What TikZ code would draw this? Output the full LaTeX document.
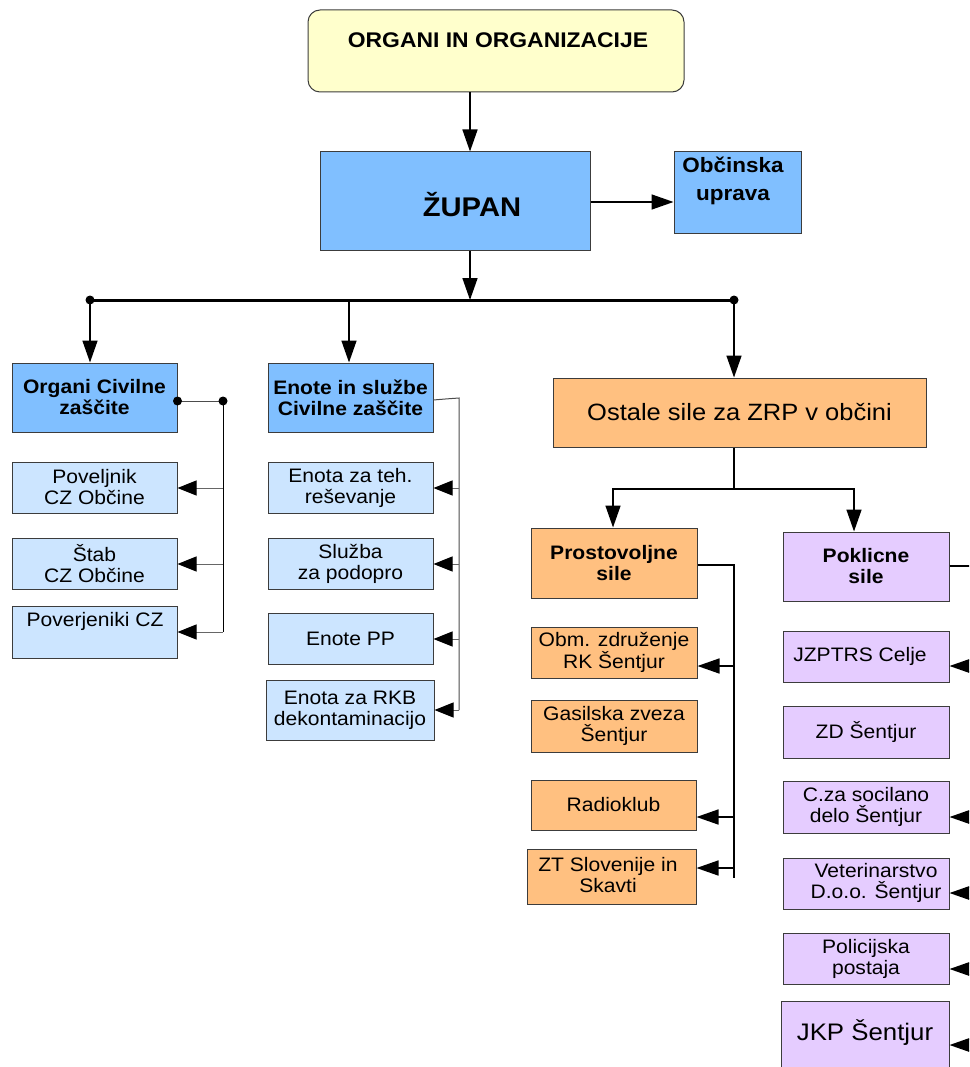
\documentclass[tikz,border=0pt]{standalone}
\usepackage{fontspec}
\setmainfont{Liberation Sans}[FakeStretch=1.08]
\usetikzlibrary{arrows.meta}
\definecolor{cyel}{RGB}{255,255,204}
\definecolor{cblue}{RGB}{128,191,255}
\definecolor{clight}{RGB}{204,229,255}
\definecolor{corange}{RGB}{255,192,128}
\definecolor{cpurple}{RGB}{229,204,255}
\definecolor{cborder}{RGB}{60,60,60}
\begin{document}
\begin{tikzpicture}[x=1pt,y=-1pt,
  bx/.style={draw=cborder,line width=1pt,inner sep=0pt,align=center,
    font=\fontsize{19.5}{21}\selectfont},
  bbx/.style={bx,font=\fontsize{19.5}{21}\selectfont\bfseries},
  txt/.style={inner sep=0pt,align=center,font=\fontsize{19.5}{21}\selectfont},
  arr/.style={line width=1.6pt,-{Triangle[length=22pt,width=15pt]}},
  sarr/.style={line width=1pt,draw=black!60,-{Triangle[length=19pt,width=15pt,color=black,fill=black]}},
  link/.style={line width=1pt,draw=black!70},
  dot/.style={circle,fill=black,inner sep=0pt,minimum size=9pt}]
\useasboundingbox (0,0) rectangle (969,1067);
\clip (0,0) rectangle (969,1067);
% top
\node[bx,fill=cyel,rounded corners=12pt,minimum width=376pt,minimum height=82pt] (top) at (496,51) {};
\node[txt,font=\fontsize{21.2}{24}\selectfont\bfseries] (topt) at (498,40) {ORGANI IN ORGANIZACIJE};
\node[bx,fill=cblue,minimum width=270pt,minimum height=98pt] (zupan) at (455,201) {};
\node[txt,font=\fontsize{27}{30}\selectfont\bfseries] (zupant) at (472,205) {ŽUPAN};
\node[bx,fill=cblue,minimum width=127pt,minimum height=82pt] (obc) at (737.5,193) {};
\node[txt,font=\fontsize{20.8}{28}\selectfont\bfseries] (obct) at (733,181) {Občinska\\uprava};
% left column
\node[bbx,fill=cblue,minimum width=165pt,minimum height=69pt] (ocz) at (94.5,397.5) {Organi Civilne\\zaščite};
\node[bx,fill=clight,minimum width=165pt,minimum height=51pt] (pov) at (94.5,487.5) {Poveljnik\\CZ Občine};
\node[bx,fill=clight,minimum width=165pt,minimum height=51pt] (stab) at (94.5,563.5) {Štab\\CZ Občine};
\node[bx,fill=clight,minimum width=165pt,minimum height=52pt] (poverj) at (94.5,632) {};
\node[txt] (poverjt) at (95,621) {Poverjeniki CZ};
% middle column
\node[bbx,fill=cblue,minimum width=165pt,minimum height=69pt] (eis) at (350.5,397.5) {Enote in službe\\Civilne zaščite};
\node[bx,fill=clight,minimum width=165pt,minimum height=51pt] (teh) at (350.5,487.5) {Enota za teh.\\reševanje};
\node[bx,fill=clight,minimum width=165pt,minimum height=51pt] (sluzba) at (350.5,563.5) {Služba\\za podopro};
\node[bx,fill=clight,minimum width=165pt,minimum height=51pt] (pp) at (350.5,638.5) {Enote PP};
\node[bx,fill=clight,minimum width=168pt,minimum height=60pt] (rkb) at (350,710) {Enota za RKB\\dekontaminacijo};
% right
\node[bx,fill=corange,minimum width=373pt,minimum height=69pt,font=\fontsize{23.6}{26}\selectfont] (ost) at (739.5,412.5) {Ostale sile za ZRP v občini};
\node[bbx,fill=corange,minimum width=166pt,minimum height=70pt] (pro) at (614,563) {Prostovoljne\\sile};
\node[bbx,fill=cpurple,minimum width=166pt,minimum height=69pt] (pok) at (866,566.5) {Poklicne\\sile};
\node[bx,fill=corange,minimum width=166pt,minimum height=51pt] (obm) at (614,652.5) {Obm. združenje\\RK Šentjur};
\node[bx,fill=corange,minimum width=166pt,minimum height=52pt] (gas) at (614,726) {Gasilska zveza\\Šentjur};
\node[bx,fill=corange,minimum width=165pt,minimum height=50pt] (radio) at (613.5,805) {Radioklub};
\node[bx,fill=corange,minimum width=169pt,minimum height=55pt] (zt) at (611.5,876.5) {};
\node[txt] (ztt) at (608,875) {ZT Slovenije in\\Skavti};
\node[bx,fill=cpurple,minimum width=166pt,minimum height=51pt] (jz) at (866,656.5) {};
\node[txt] (jzt) at (860,656) {JZPTRS Celje};
\node[bx,fill=cpurple,minimum width=166pt,minimum height=52pt] (zd) at (866,732) {ZD Šentjur};
\node[bx,fill=cpurple,minimum width=166pt,minimum height=52pt] (csd) at (866,807) {C.za socilano\\delo Šentjur};
\node[bx,fill=cpurple,minimum width=166pt,minimum height=51pt] (vet) at (866,883.5) {};
\node[txt] (vett) at (876,883) {Veterinarstvo\\D.o.o. Šentjur};
\node[bx,fill=cpurple,minimum width=166pt,minimum height=51pt] (pol) at (866,958.5) {Policijska\\postaja};
\node[bx,fill=cpurple,minimum width=168pt,minimum height=89pt] (jkp) at (865,1045.5) {};
\node[txt,font=\fontsize{23.9}{26}\selectfont] (jkpt) at (865,1033) {JKP Šentjur};
% coordinates
\coordinate (bus) at (470,300);
\coordinate (busL) at (90,300);
\coordinate (busM) at (349,300);
\coordinate (busR) at (734,300);
\coordinate (yz) at (0,202);
% top connectors
\draw[arr] (top.south -| bus) -- (zupan.north -| bus);
\draw[arr] (zupan.east |- yz) -- (obc.west |- yz);
\draw[arr] (zupan.south -| bus) -- (bus);
\draw[line width=3pt] (busL) -- (busR);
\node[dot] (dL) at (busL) {};
\node[dot] (dR) at (busR) {};
\draw[arr] (busL) -- (ocz.north -| busL);
\draw[arr] (busM) -- (eis.north -| busM);
\draw[arr] (busR) -- (ost.north -| busR);
% left bracket
\coordinate (lj) at (223,401);
\coordinate (ljb) at (223,632);
\draw[link] (ocz.east |- lj) -- (lj);
\draw[line width=1pt] (lj) -- (ljb);
\node[dot] (d1) at (ocz.east |- lj) {};
\node[dot] (d2) at (lj) {};
\draw[sarr] (223,488) -- (pov.east |- 0,488);
\draw[sarr] (223,564) -- (stab.east |- 0,564);
\draw[sarr] (ljb) -- (poverj.east |- ljb);
% middle bracket
\coordinate (ej) at (459,398);
\coordinate (ejb) at (459,710);
\draw[link] (eis.east |- 0,400) .. controls (445,399) .. (ej) -- (ejb);
\draw[sarr] (459,488) -- (teh.east |- 0,488);
\draw[sarr] (459,564) -- (sluzba.east |- 0,564);
\draw[sarr] (459,639) -- (pp.east |- 0,639);
\draw[sarr] (ejb) -- (rkb.east |- ejb);
% ostale
\coordinate (oj) at (734,489);
\coordinate (pkx) at (854,489);
\draw[line width=1.4pt] (ost.south -| oj) -- (oj);
\draw[arr] (oj) -| (pro.north -| 613,0);
\draw[arr] (oj) -- (pkx) -- (pok.north -| pkx);
% prostovoljne bracket
\coordinate (pj) at (734,565);
\coordinate (pjb) at (734,878);
\draw[line width=1.4pt] (pro.east |- pj) -- (pj) -- (pjb);
\draw[arr] (734,666) -- (obm.east |- 0,666);
\draw[arr] (734,817) -- (radio.east |- 0,817);
\draw[arr] (734,868) -- (zt.east |- 0,868);
% poklicne bracket
\coordinate (kj) at (1000,566);
\coordinate (kjb) at (1000,1100);
\draw[line width=1.4pt] (pok.east |- kj) -- (kj) -- (kjb);
\draw[arr] (1000,666) -- (jz.east |- 0,666);
\draw[arr] (1000,817) -- (csd.east |- 0,817);
\draw[arr] (1000,893) -- (vet.east |- 0,893);
\draw[arr] (1000,969) -- (pol.east |- 0,969);
\draw[arr] (1000,1045) -- (jkp.east |- 0,1045);
\end{tikzpicture}
\end{document}
